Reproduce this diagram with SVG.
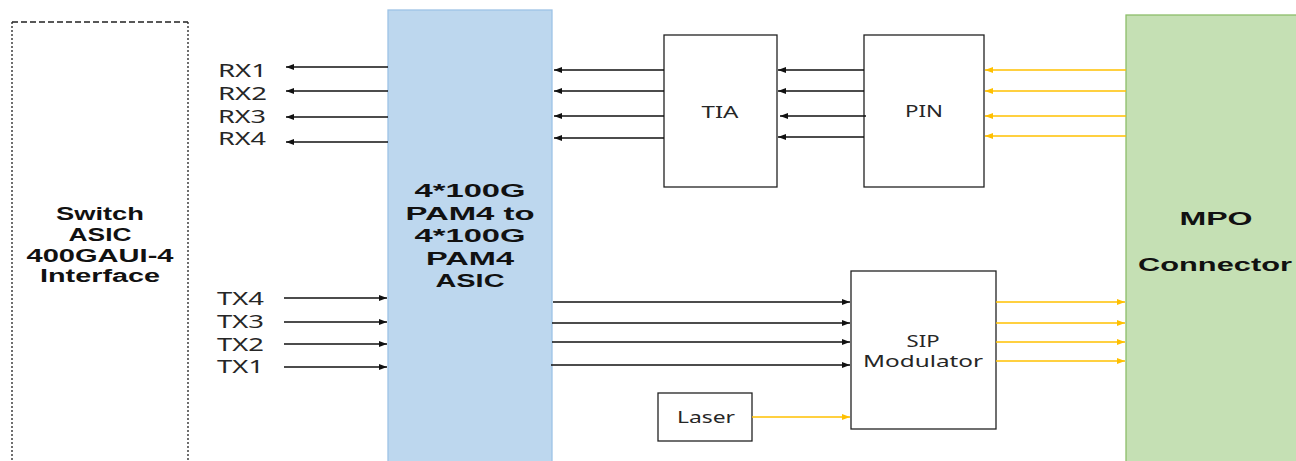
<svg xmlns="http://www.w3.org/2000/svg" width="1296" height="461" viewBox="0 0 1296 461">
<defs>
<style>
.lbl{font-family:"Noto Sans","Open Sans",sans-serif;font-size:18px;fill:#262626}
.sm{font-family:"Noto Sans","Open Sans",sans-serif;font-size:16px;fill:#262626}
.bold{font-family:"Liberation Sans","Arial",sans-serif;font-weight:bold;font-size:18px;fill:#111}
.bsw{font-size:17.5px}
.box{fill:#fff;stroke:#222;stroke-width:1.3}
.blk{stroke:#111;stroke-width:1.5;fill:none}
.yel{stroke:#FFC000;stroke-width:1.5;fill:none}
</style>
<marker id="ab" markerUnits="userSpaceOnUse" markerWidth="10" markerHeight="8" refX="8" refY="3" orient="auto"><path d="M0,0 L8,3 L0,6 Z" fill="#111"/></marker>
<marker id="ay" markerUnits="userSpaceOnUse" markerWidth="10" markerHeight="8" refX="8" refY="3" orient="auto"><path d="M0,0 L8,3 L0,6 Z" fill="#FFC000"/></marker>
</defs>
<rect width="1296" height="461" fill="#fff"/>

<g id="switch">
<line x1="12" y1="22" x2="188" y2="22" stroke="#222" stroke-width="1.3" stroke-dasharray="6,3"/>
<line x1="12" y1="22" x2="12" y2="461" stroke="#222" stroke-width="1.3" stroke-dasharray="2,2"/>
<line x1="188" y1="22" x2="188" y2="461" stroke="#222" stroke-width="1.3" stroke-dasharray="2,2"/>
<text class="bold bsw" x="100" y="220" text-anchor="middle" textLength="88" lengthAdjust="spacingAndGlyphs">Switch</text>
<text class="bold bsw" x="100" y="241" text-anchor="middle" textLength="63" lengthAdjust="spacingAndGlyphs">ASIC</text>
<text class="bold bsw" x="100" y="262" text-anchor="middle" textLength="147" lengthAdjust="spacingAndGlyphs">400GAUI-4</text>
<text class="bold bsw" x="100" y="282" text-anchor="middle" textLength="120" lengthAdjust="spacingAndGlyphs">Interface</text>
</g>

<g id="asic">
<rect x="388" y="10" width="164" height="460" fill="#BDD7EE" stroke="#9DC3E6" stroke-width="1.3"/>
<text class="bold" x="470" y="197" text-anchor="middle" textLength="111" lengthAdjust="spacingAndGlyphs">4*100G</text>
<text class="bold" x="470" y="220" text-anchor="middle" textLength="129" lengthAdjust="spacingAndGlyphs">PAM4 to</text>
<text class="bold" x="470" y="242" text-anchor="middle" textLength="111" lengthAdjust="spacingAndGlyphs">4*100G</text>
<text class="bold" x="470" y="265" text-anchor="middle" textLength="88" lengthAdjust="spacingAndGlyphs">PAM4</text>
<text class="bold" x="470" y="287" text-anchor="middle" textLength="69" lengthAdjust="spacingAndGlyphs">ASIC</text>
</g>

<g id="tia">
<rect class="box" x="664" y="35" width="113" height="152"/>
<text class="sm" x="720" y="118" text-anchor="middle" textLength="37" lengthAdjust="spacingAndGlyphs">TIA</text>
</g>

<g id="pin">
<rect class="box" x="864" y="35" width="120" height="152"/>
<text class="sm" x="924" y="117" text-anchor="middle" textLength="38" lengthAdjust="spacingAndGlyphs">PIN</text>
</g>

<g id="sip">
<rect class="box" x="851" y="271" width="145" height="158"/>
<text class="sm" x="923" y="347" text-anchor="middle" textLength="33" lengthAdjust="spacingAndGlyphs">SIP</text>
<text class="sm" x="923" y="367" text-anchor="middle" textLength="120" lengthAdjust="spacingAndGlyphs">Modulator</text>
</g>

<g id="laser">
<rect class="box" x="658" y="393" width="94" height="48"/>
<text class="sm" x="706" y="423" text-anchor="middle" textLength="58" lengthAdjust="spacingAndGlyphs">Laser</text>
</g>

<g id="mpo">
<rect x="1126" y="15" width="180" height="460" fill="#C5E0B4" stroke="#8DBE6A" stroke-width="1.3"/>
<text class="bold" x="1216" y="225" text-anchor="middle" textLength="73" lengthAdjust="spacingAndGlyphs">MPO</text>
<text class="bold" x="1215" y="271" text-anchor="middle" textLength="154" lengthAdjust="spacingAndGlyphs">Connector</text>
</g>

<g id="labels">
<text class="lbl" x="218" y="77" textLength="49" lengthAdjust="spacingAndGlyphs">RX1</text>
<text class="lbl" x="218" y="100" textLength="49" lengthAdjust="spacingAndGlyphs">RX2</text>
<text class="lbl" x="218" y="123" textLength="48" lengthAdjust="spacingAndGlyphs">RX3</text>
<text class="lbl" x="218" y="145" textLength="48" lengthAdjust="spacingAndGlyphs">RX4</text>
<text class="lbl" x="217" y="305" textLength="47" lengthAdjust="spacingAndGlyphs">TX4</text>
<text class="lbl" x="217" y="328" textLength="47" lengthAdjust="spacingAndGlyphs">TX3</text>
<text class="lbl" x="217" y="351" textLength="47" lengthAdjust="spacingAndGlyphs">TX2</text>
<text class="lbl" x="217" y="373" textLength="47" lengthAdjust="spacingAndGlyphs">TX1</text>
</g>

<g id="connectors">
<line class="blk" x1="388" y1="67" x2="286" y2="67" marker-end="url(#ab)"/>
<line class="blk" x1="388" y1="91" x2="286" y2="91" marker-end="url(#ab)"/>
<line class="blk" x1="388" y1="117" x2="286" y2="117" marker-end="url(#ab)"/>
<line class="blk" x1="388" y1="142" x2="286" y2="142" marker-end="url(#ab)"/>

<line class="blk" x1="284" y1="298" x2="387" y2="298" marker-end="url(#ab)"/>
<line class="blk" x1="284" y1="322" x2="387" y2="322" marker-end="url(#ab)"/>
<line class="blk" x1="284" y1="344" x2="387" y2="344" marker-end="url(#ab)"/>
<line class="blk" x1="284" y1="367" x2="387" y2="367" marker-end="url(#ab)"/>

<line class="blk" x1="664" y1="70" x2="554" y2="70" marker-end="url(#ab)"/>
<line class="blk" x1="664" y1="91" x2="554" y2="91" marker-end="url(#ab)"/>
<line class="blk" x1="664" y1="116" x2="554" y2="116" marker-end="url(#ab)"/>
<line class="blk" x1="664" y1="138" x2="554" y2="138" marker-end="url(#ab)"/>

<line class="blk" x1="864" y1="70" x2="778" y2="70" marker-end="url(#ab)"/>
<line class="blk" x1="864" y1="91" x2="778" y2="91" marker-end="url(#ab)"/>
<line class="blk" x1="866" y1="116" x2="780" y2="116" marker-end="url(#ab)"/>
<line class="blk" x1="864" y1="137" x2="778" y2="137" marker-end="url(#ab)"/>

<line class="yel" x1="1126" y1="70" x2="985" y2="70" marker-end="url(#ay)"/>
<line class="yel" x1="1126" y1="91" x2="985" y2="91" marker-end="url(#ay)"/>
<line class="yel" x1="1126" y1="116" x2="985" y2="116" marker-end="url(#ay)"/>
<line class="yel" x1="1126" y1="136" x2="985" y2="136" marker-end="url(#ay)"/>

<line class="blk" x1="553" y1="302" x2="850" y2="302" marker-end="url(#ab)"/>
<line class="blk" x1="552" y1="323" x2="850" y2="323" marker-end="url(#ab)"/>
<line class="blk" x1="552" y1="342" x2="850" y2="342" marker-end="url(#ab)"/>
<line class="blk" x1="551" y1="365" x2="850" y2="365" marker-end="url(#ab)"/>

<line class="yel" x1="996" y1="302" x2="1125" y2="302" marker-end="url(#ay)"/>
<line class="yel" x1="996" y1="323" x2="1125" y2="323" marker-end="url(#ay)"/>
<line class="yel" x1="996" y1="342" x2="1125" y2="342" marker-end="url(#ay)"/>
<line class="yel" x1="996" y1="361" x2="1125" y2="361" marker-end="url(#ay)"/>

<line class="yel" x1="752" y1="417" x2="850" y2="417" marker-end="url(#ay)"/>
</g>
</svg>
